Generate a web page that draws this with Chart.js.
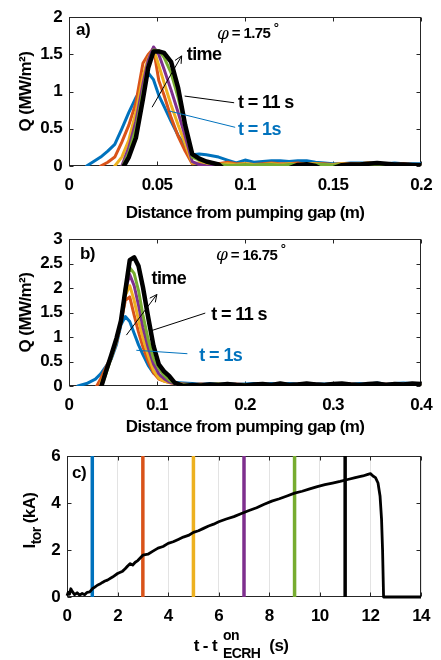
<!DOCTYPE html>
<html><head><meta charset="utf-8">
<script src="https://cdn.jsdelivr.net/npm/chart.js@4.4.0/dist/chart.umd.min.js"></script>
<style>
html,body{margin:0;padding:0;background:#fff;width:441px;height:660px;overflow:hidden}
.p{position:absolute;left:0;width:441px}
</style></head><body>
<div class="p" style="top:0;height:222px"><canvas id="ca"></canvas></div>
<div class="p" style="top:222px;height:214px"><canvas id="cb"></canvas></div>
<div class="p" style="top:436px;height:224px"><canvas id="cc"></canvas></div>
<script>
// ---------------- DATA ----------------
const seriesLabels = ['t = 1 s','t = 3 s','t = 5 s','t = 7 s','t = 9 s','t = 11 s'];

// Panel a) phi = 1.75 deg : distance (m) vs Q (MW/m^2)
const xA = [0.010,0.014,0.018,0.022,0.026,0.030,0.034,0.038,0.042,0.045,0.048,0.051,0.054,0.058,0.062,0.066,0.070,0.074,0.078,
  0.085,0.090,0.095,0.100,0.105,0.110,0.115,0.120,0.125,0.130,0.135,0.140,0.145,0.150,0.155,0.160,0.165,0.170,0.175,0.180,0.185,0.190,0.195,0.200];
const qA_t1 = [0,0.06,0.12,0.2,0.29,0.5,0.72,0.92,1.06,1.25,1.16,0.95,0.8,0.6,0.41,0.27,0.15,0.16,0.15,
  0.12,0.08,0.04,0.08,0.05,0.06,0.07,0.07,0.06,0.07,0.07,0.05,0.04,0.03,0.03,0.04,0.04,0.04,0.04,0.03,0.04,0.03,0.03,0.03];
const qA_t3 = [null,null,0,0.05,0.12,0.32,0.55,0.85,1.38,1.5,1.58,1.15,0.95,0.65,0.4,0.2,0.03,0.04,0.04,
  0.03,0.05,0.03,0.03,0.02,0.03,0.04,0.03,0.03,0.04,0.02,0.03,0.03,0.02,0.03,0.03,0.03,0.04,0.03,0.03,0.02,0.03,0.02,0.02];
const qA_t5 = [null,null,null,null,0,0.12,0.35,0.72,1.2,1.45,1.58,1.35,1.12,0.82,0.55,0.3,0.04,0.03,0.03,
  0.02,0.03,0.02,0.03,0.02,0.02,0.03,0.02,0.03,0.02,0.03,0.03,0.02,0.02,0.03,0.02,0.03,0.04,0.03,0.02,0.02,0.02,0.02,0.02];
const qA_t7 = [null,null,null,null,null,0,0.25,0.6,1.1,1.42,1.6,1.5,1.3,1.02,0.72,0.4,0.06,0.02,0,
  -0.01,0,0.01,0,0.01,0.01,0,0.01,0,0.01,0.01,0,0.01,0.01,0,0.01,0.01,0,0.01,0,0.01,0.01,0,0.01];
const qA_t9 = [null,null,null,null,null,-0.03,0.18,0.5,1.0,1.35,1.56,1.55,1.46,1.25,0.92,0.52,0.12,0.08,0.05,
  0.02,0.01,0.01,0.02,0.01,0.02,0.02,0.01,0.02,0.02,0.01,0.02,0.02,0.01,0.02,0.02,0.01,0.02,0.02,0.01,0.02,0.01,0.02,0.01];
const qA_t11 = [null,null,null,null,null,-0.05,0.12,0.38,0.9,1.32,1.54,1.54,1.52,1.4,1.05,0.55,0.16,0.1,0.06,
  0.02,-0.08,-0.1,-0.1,-0.1,-0.1,-0.1,-0.1,-0.03,0.015,0.025,0,-0.06,-0.03,0.01,0.02,0.02,0.03,0.04,0.03,0.02,0.02,0.015,0.01];

// Panel b) phi = 16.75 deg
const xB = [0.010,0.020,0.030,0.036,0.042,0.048,0.054,0.059,0.064,0.069,0.074,0.079,0.084,0.090,0.096,0.102,0.108,0.114,0.120,
  0.13,0.14,0.15,0.16,0.17,0.18,0.19,0.20,0.21,0.22,0.23,0.24,0.25,0.26,0.27,0.28,0.29,0.30,0.31,0.32,0.33,0.34,0.35,0.36,0.37,0.38,0.39,0.40];
const qB_t1 = [0,0.05,0.14,0.25,0.4,0.55,0.85,1.25,1.42,1.32,1.08,0.84,0.64,0.42,0.26,0.2,0.17,0.1,0.07,
  0.06,0.05,0.04,0.05,0.04,0.05,0.04,0.04,0.05,0.04,0.05,0.04,0.05,0.05,0.04,0.05,0.04,0.05,0.05,0.04,0.05,0.04,0.06,0.04,0.05,0.06,0.05,0.04];
const qB_t3 = [null,null,-0.05,0.15,0.38,0.6,0.9,1.3,1.75,1.82,1.45,1.1,0.8,0.5,0.27,0.14,0.1,0.07,0.05,
  0.04,0.03,0.04,0.03,0.04,0.03,0.04,0.03,0.03,0.04,0.03,0.04,0.03,0.04,0.03,0.04,0.03,0.04,0.03,0.04,0.03,0.04,0.03,0.04,0.03,0.04,0.03,0.04];
const qB_t5 = [null,null,null,0.05,0.32,0.58,0.9,1.32,1.85,2.05,1.75,1.35,0.98,0.62,0.32,0.16,0.1,0.07,0.05,
  0.03,0.03,0.02,0.03,0.03,0.02,0.03,0.03,0.02,0.03,0.03,0.03,0.02,0.03,0.03,0.02,0.03,0.03,0.02,0.03,0.03,0.02,0.03,0.03,0.02,0.03,0.03,0.02];
const qB_t7 = [null,null,null,-0.02,0.28,0.58,0.9,1.32,1.95,2.28,2.05,1.65,1.2,0.78,0.45,0.25,0.15,0.08,0.05,
  0.02,0.02,0.01,-0.02,0.01,0.02,0.01,0.02,0.02,0.01,0.02,0.02,0.01,0.02,0.02,0.01,0.02,0.02,0.01,0.02,0.02,0.01,0.02,0.02,0.01,0.02,0.02,0.01];
const qB_t9 = [null,null,null,-0.05,0.25,0.58,0.92,1.33,2.0,2.42,2.3,1.95,1.45,0.95,0.56,0.36,0.22,0.12,0.06,
  0.02,0.03,0.02,0.03,0.04,0.02,0.03,0.03,0.02,0.03,0.03,0.02,0.03,0.03,0.02,0.03,0.03,0.02,0.03,0.03,0.02,0.03,0.03,0.02,0.03,0.03,0.02,0.03];
const qB_t11 = [null,null,null,-0.05,0.3,0.63,0.98,1.33,1.95,2.57,2.63,2.45,2.02,1.4,0.82,0.44,0.3,0.2,0.07,
  0.0,0.02,0.01,0.03,0.02,0.04,0.02,0.01,0.03,0.04,0.02,0.05,0.02,0.03,0.05,0.03,0.02,0.04,0.05,0.03,0.02,0.04,0.05,0.02,0.04,0.03,0.05,0.04];

// Panel c) toroidal current vs time
const tC = [0,0.05,0.1,0.15,0.2,0.3,0.4,0.5,0.6,0.7,0.8,0.9,1.0,1.1,1.2,1.3,1.4,1.5,1.6,1.8,2.0,2.2,2.3,2.4,2.5,2.6,2.7,2.8,3.0,3.2,3.4,3.6,3.8,4.0,4.2,4.4,4.6,4.8,5.0,5.2,5.4,5.6,5.8,6.0,6.3,6.6,6.9,7.2,7.5,7.8,8.1,8.4,8.7,9.0,9.3,9.6,9.9,10.2,10.5,10.8,11.1,11.4,11.7,11.9,12.0,12.1,12.2,12.3,12.38,12.44,12.48,12.52,13.0,14.0];
const iTor = [0.05,0.2,0.12,0.35,0.25,0.1,0.18,0.08,0.15,0.1,0.2,0.22,0.35,0.42,0.5,0.55,0.62,0.68,0.72,0.85,1.0,1.1,1.2,1.32,1.42,1.36,1.48,1.55,1.78,1.82,1.95,2.08,2.15,2.28,2.35,2.45,2.55,2.62,2.75,2.82,2.92,3.02,3.1,3.2,3.32,3.42,3.55,3.68,3.8,3.95,4.08,4.18,4.3,4.42,4.5,4.6,4.7,4.78,4.85,4.92,5.0,5.08,5.15,5.22,5.25,5.15,5.08,4.85,4.3,3.3,2.0,0,0,0];
const snapTimes = [1,3,5,7,9,11];

// tick labels
const xTicksA = [0,0.05,0.1,0.15,0.2];
const yTicksA = [0,0.5,1,1.5,2];
const xTicksB = [0,0.1,0.2,0.3,0.4];
const yTicksB = [0,0.5,1,1.5,2,2.5,3];
const xTicksC = [0,2,4,6,8,10,12,14];
const yTicksC = [0,2,4,6];

// ---------------- STYLE ----------------
const FONT = '"Liberation Sans", Arial, sans-serif';
const SPACING = '-0.6px';
const seriesColors = ['#0072BD','#D95319','#EDB120','#7E2F8E','#77AC30','#000000'];
const seriesWidths = [3,3,3,3,3,4.5];
const BLUE = '#0072BD';

function profileDatasets(xs, ys) {
  const ds = ys.map((arr,i)=>({
    label: seriesLabels[i],
    data: xs.map((x,j)=>({x:x, y:arr[j]})),
    borderColor: seriesColors[i], backgroundColor: seriesColors[i],
    borderWidth: seriesWidths[i], pointRadius:0, tension:0, fill:false,
    borderJoinStyle:'round', borderCapStyle:'round'
  }));
  return ds.reverse(); // latest time drawn on top
}

const spacingPlugin = {
  id:'spacing',
  beforeInit(chart){ chart.ctx.letterSpacing = SPACING; },
  beforeUpdate(chart){ chart.ctx.letterSpacing = SPACING; },
  beforeDraw(chart){ chart.ctx.letterSpacing = SPACING; }
};

const framePlugin = {
  id:'frame',
  beforeDatasetsDraw(chart){
    const {ctx, chartArea:a, scales} = chart;
    const x = scales.x, y = scales.y;
    ctx.save();
    ctx.strokeStyle = '#262626'; ctx.lineWidth = 1;
    const L = Math.round(a.left)+0.5, R = Math.round(a.right)-0.5, T = Math.round(a.top)+0.5, B = Math.round(a.bottom)-0.5;
    ctx.strokeRect(L, T, R-L, B-T);
    ctx.beginPath();
    x.ticks.forEach(t=>{ const p = Math.round(x.getPixelForValue(t.value))+0.5;
      ctx.moveTo(p,B); ctx.lineTo(p,B-4); ctx.moveTo(p,T); ctx.lineTo(p,T+4); });
    y.ticks.forEach(t=>{ const p = Math.round(y.getPixelForValue(t.value))+0.5;
      ctx.moveTo(L,p); ctx.lineTo(L+4,p); ctx.moveTo(R,p); ctx.lineTo(R-4,p); });
    ctx.stroke();
    ctx.restore();
  }
};

function drawParts(ctx, parts, x, y) {
  let cx = x;
  parts.forEach(p=>{
    ctx.font = p.font; ctx.fillStyle = p.color || '#000';
    ctx.fillText(p.t, cx, y + (p.dy||0));
    cx += ctx.measureText(p.t).width;
  });
}

const notesPlugin = {
  id:'notes',
  afterDatasetsDraw(chart, args, opts){
    const {ctx, scales:{x,y}} = chart;
    ctx.save();
    (opts.items||[]).forEach(it=>{
      if (it.type==='text') {
        ctx.textBaseline = 'middle'; ctx.textAlign='left';
        drawParts(ctx, it.parts, x.getPixelForValue(it.x), y.getPixelForValue(it.y));
      } else if (it.type==='line') {
        const x1=x.getPixelForValue(it.x1), y1=y.getPixelForValue(it.y1), x2=x.getPixelForValue(it.x2), y2=y.getPixelForValue(it.y2);
        ctx.strokeStyle = it.color; ctx.lineWidth = 1;
        ctx.beginPath(); ctx.moveTo(x1,y1); ctx.lineTo(x2,y2);
        if (it.arrow) {
          const ang = Math.atan2(y2-y1, x2-x1), h = 8;
          ctx.moveTo(x2,y2); ctx.lineTo(x2-h*Math.cos(ang-0.45), y2-h*Math.sin(ang-0.45));
          ctx.moveTo(x2,y2); ctx.lineTo(x2-h*Math.cos(ang+0.45), y2-h*Math.sin(ang+0.45));
        }
        ctx.stroke();
      }
    });
    ctx.restore();
  }
};

// rich axis titles for panel c (sub/superscripts)
const richTitlesPlugin = {
  id:'richTitles',
  afterDraw(chart){
    const ctx = chart.ctx, a = chart.chartArea;
    ctx.save();
    ctx.fillStyle = '#000'; ctx.textBaseline = 'alphabetic'; ctx.textAlign = 'left';
    const big = 'bold 17px '+FONT, small = 'bold 14px '+FONT;
    // y title: I_tor (kA)
    const yParts = [{t:'I', font:big},{t:'tor', font:small, dy:6},{t:' (kA)', font:big}];
    let w = 0; yParts.forEach(p=>{ctx.font=p.font; w+=ctx.measureText(p.t).width;});
    ctx.save();
    ctx.translate(35, (a.top+a.bottom)/2 - 6);
    ctx.rotate(-Math.PI/2);
    drawParts(ctx, yParts, -w/2, 0);
    ctx.restore();
    // x title: t - t^on_ECRH (s)
    ctx.font = big; const w1 = ctx.measureText('t - t').width;
    ctx.font = small; const wOn = ctx.measureText('on').width, wE = ctx.measureText('ECRH').width;
    ctx.font = big; const w3 = ctx.measureText('(s)').width;
    const gap1 = 6, gap2 = 9;
    const total = w1 + gap1 + Math.max(wOn,wE) + gap2 + w3;
    let x0 = 241 - total/2, base = 651 - 436;
    ctx.font = big; ctx.fillText('t - t', x0, base);
    const xs = x0 + w1 + gap1;
    ctx.font = small; ctx.fillText('on', xs, base - 11); ctx.fillText('ECRH', xs, base + 7);
    ctx.font = big; ctx.fillText('(s)', xs + Math.max(wOn,wE) + gap2, base);
    ctx.restore();
  }
};

function makeScales(o) {
  const tickFont = {family: FONT, size: 17, weight:'bold'};
  return {
    x: {
      type:'linear', min:o.xmin, max:o.xmax,
      afterBuildTicks: s => { s.ticks = o.xticks.map(v=>({value:v})); },
      afterFit: s => { s.height = o.xh; },
      ticks: {font: tickFont, color:'#000', padding:9, maxRotation:0, autoSkip:false, callback: v => String(v)},
      grid: {display: !!o.xgrid, drawTicks:false, color:'#e3e3e3', lineWidth:1},
      border: {display:false},
      title: {display: !!o.xTitle, text: o.xTitle || '', color:'#000',
              font:{family:FONT, size:17, weight:'bold', lineHeight:1}, padding:{top:0, bottom:0.5}}
    },
    y: {
      type:'linear', min:o.ymin, max:o.ymax,
      afterBuildTicks: s => { s.ticks = o.yticks.map(v=>({value:v})); },
      afterFit: s => { s.width = o.left; },
      ticks: {font: tickFont, color:'#000', padding:7, callback: v => String(v)},
      grid: {display:false, drawTicks:false},
      border: {display:false},
      title: {display: !!o.yTitle, text: o.yTitle || '', color:'#000',
              font:{family:FONT, size:17, weight:'bold', lineHeight:1}, padding:{top:18, bottom:0}}
    }
  };
}

function commonOptions(o, notes) {
  return {
    responsive:true, maintainAspectRatio:false, animation:false,
    layout:{padding:{left:0, right:441-o.right, top:o.top, bottom:0}},
    scales: makeScales(o),
    plugins:{legend:{display:false}, tooltip:{enabled:false}, notes:{items:notes}}
  };
}

const boldNote = 'bold 18px '+FONT;
const phiParts = (val) => [
  {t:'\u03C6', font:'italic 17px "DejaVu Serif", serif'},
  {t:' = '+val+' ', font:'bold 15px '+FONT},
  {t:'\u00B0', font:'bold 13px '+FONT, dy:-6}
];

// ---------------- CHART a ----------------
new Chart(document.getElementById('ca'), {
  type:'line',
  data:{datasets: profileDatasets(xA, [qA_t1,qA_t3,qA_t5,qA_t7,qA_t9,qA_t11])},
  options: commonOptions({xmin:0,xmax:0.2,ymin:0,ymax:2,xticks:xTicksA,yticks:yTicksA,left:69,right:423,top:9,xh:56,
      xTitle:'Distance from pumping gap (m)', yTitle:'Q (MW/m\u00B2)'},
    [
      {type:'text', x:0.004, y:1.82, parts:[{t:'a)', font:'bold 17px '+FONT}]},
      {type:'text', x:0.084, y:1.77, parts:phiParts('1.75')},
      {type:'text', x:0.0669, y:1.49, parts:[{t:'time', font:boldNote}]},
      {type:'line', x1:0.0472, y1:0.79, x2:0.064, y2:1.48, color:'#000', arrow:true},
      {type:'text', x:0.096, y:0.84, parts:[{t:'t = 11 s', font:boldNote}]},
      {type:'line', x1:0.0657, y1:0.94, x2:0.0938, y2:0.85, color:'#000'},
      {type:'text', x:0.096, y:0.48, parts:[{t:'t = 1s', font:boldNote, color:BLUE}]},
      {type:'line', x1:0.0567, y1:0.74, x2:0.0944, y2:0.52, color:BLUE}
    ]),
  plugins:[spacingPlugin, framePlugin, notesPlugin]
});

// ---------------- CHART b ----------------
new Chart(document.getElementById('cb'), {
  type:'line',
  data:{datasets: profileDatasets(xB, [qB_t1,qB_t3,qB_t5,qB_t7,qB_t9,qB_t11])},
  options: commonOptions({xmin:0,xmax:0.4,ymin:0,ymax:3,xticks:xTicksB,yticks:yTicksB,left:69,right:423,top:7,xh:50,
      xTitle:'Distance from pumping gap (m)', yTitle:'Q (MW/m\u00B2)'},
    [
      {type:'text', x:0.0124, y:2.70, parts:[{t:'b)', font:'bold 17px '+FONT}]},
      {type:'text', x:0.167, y:2.66, parts:phiParts('16.75')},
      {type:'text', x:0.0938, y:2.18, parts:[{t:'time', font:boldNote}]},
      {type:'line', x1:0.0652, y1:1.04, x2:0.0998, y2:1.87, color:'#000', arrow:true},
      {type:'text', x:0.1616, y:1.45, parts:[{t:'t = 11 s', font:boldNote}]},
      {type:'line', x1:0.0934, y1:1.13, x2:0.1548, y2:1.49, color:'#000'},
      {type:'text', x:0.148, y:0.61, parts:[{t:'t = 1s', font:boldNote, color:BLUE}]},
      {type:'line', x1:0.0765, y1:0.73, x2:0.1345, y2:0.66, color:BLUE}
    ]),
  plugins:[spacingPlugin, framePlugin, notesPlugin]
});

// ---------------- CHART c ----------------
const cDatasets = [{
  label:'I_tor', data: tC.map((t,i)=>({x:t, y:iTor[i]})),
  borderColor:'#000', borderWidth:2.8, pointRadius:0, tension:0, fill:false, clip:false,
  borderJoinStyle:'round'
}].concat(snapTimes.map((t,i)=>({
  label: seriesLabels[i], data:[{x:t,y:0},{x:t,y:6}],
  borderColor: seriesColors[i], borderWidth:3.5, pointRadius:0, fill:false
})));
new Chart(document.getElementById('cc'), {
  type:'line',
  data:{datasets: cDatasets},
  options: commonOptions({xmin:0,xmax:14,ymin:0,ymax:6,xticks:xTicksC,yticks:yTicksC,left:67,right:421,top:20,xh:63,xgrid:true},
    [ {type:'text', x:0.2, y:5.28, parts:[{t:'c)', font:'bold 17px '+FONT}]} ]),
  plugins:[spacingPlugin, framePlugin, notesPlugin, richTitlesPlugin]
});
</script>
</body></html>
